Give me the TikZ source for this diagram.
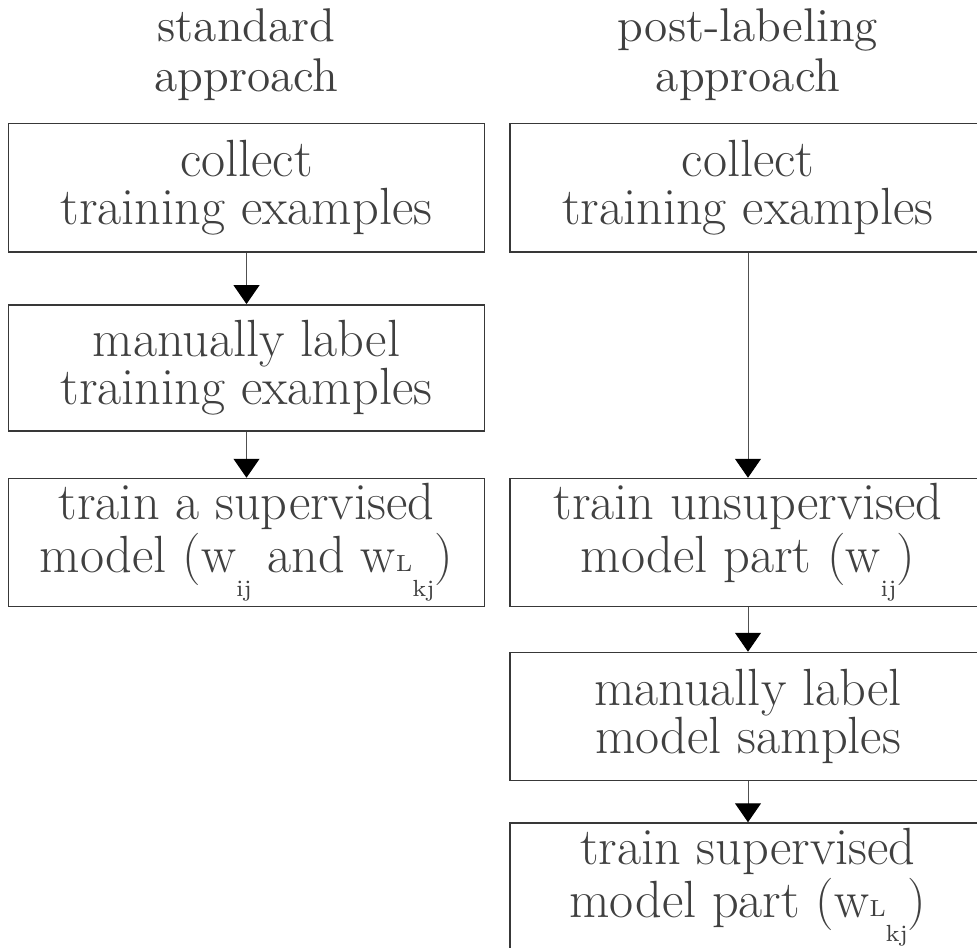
\documentclass[tikz,border=0pt]{standalone}
\usepackage{fontspec}
\usetikzlibrary{arrows.meta}
\definecolor{ink}{HTML}{404040}
\definecolor{boxline}{HTML}{383838}
\definecolor{connline}{HTML}{505050}
\newcommand{\lowsub}[1]{\raisebox{-7.2pt}[0pt]{\fontsize{7pt}{7pt}\selectfont #1}}
\newcommand{\supL}{\raisebox{0.3pt}{\fontsize{7pt}{7pt}\selectfont L}}
\begin{document}
\begin{tikzpicture}[x=0.3pt,y=-0.3pt,
  box/.style={draw=boxline, line width=0.45pt, minimum width=142.8pt, inner sep=0pt,
    align=center, text=ink, font=\fontsize{15.7pt}{14.3pt}\selectfont},
  titletext/.style={inner sep=0pt, align=center, text=ink, font=\fontsize{14.2pt}{15pt}\selectfont},
  conn/.style={draw=connline, line width=0.3pt, -{Triangle[width=7.8pt,length=5.7pt,color=black]}}]
\useasboundingbox (0,0) rectangle (977,948);
\clip (0,0) rectangle (977,948);
% titles
\node[titletext] (t1) at (246.5,55) {standard\\approach};
\node[titletext] (t2) at (748,55) {post-labeling\\approach};
% left column
\node[box, minimum height=38.55pt] (l1) at (246.5,187.75) {collect\\training examples};
\node[box, minimum height=37.9pt] (l2) at (246.5,368) {manually label\\training examples};
\node[box, minimum height=38.4pt] (l3) at (246.5,542.5) {train a supervised\\model (w\lowsub{ij} and w\supL\lowsub{kj})};
% right column
\node[box, minimum height=38.55pt] (r1) at (748,187.75) {collect\\training examples};
\node[box, minimum height=38.4pt] (r2) at (748,542.5) {train unsupervised\\model part (w\lowsub{ij})};
\node[box, minimum height=38.4pt] (r3) at (748,716.5) {manually label\\model samples};
\node[box, minimum height=38.4pt] (r4) at (748,887) {train supervised\\model part (w\supL\lowsub{kj})};
% connectors
\draw[conn] (l1) -- (l2);
\draw[conn] (l2) -- (l3);
\draw[conn] (r1) -- (r2);
\draw[conn] (r2) -- (r3);
\draw[conn] (r3) -- (r4);
\end{tikzpicture}
\end{document}
